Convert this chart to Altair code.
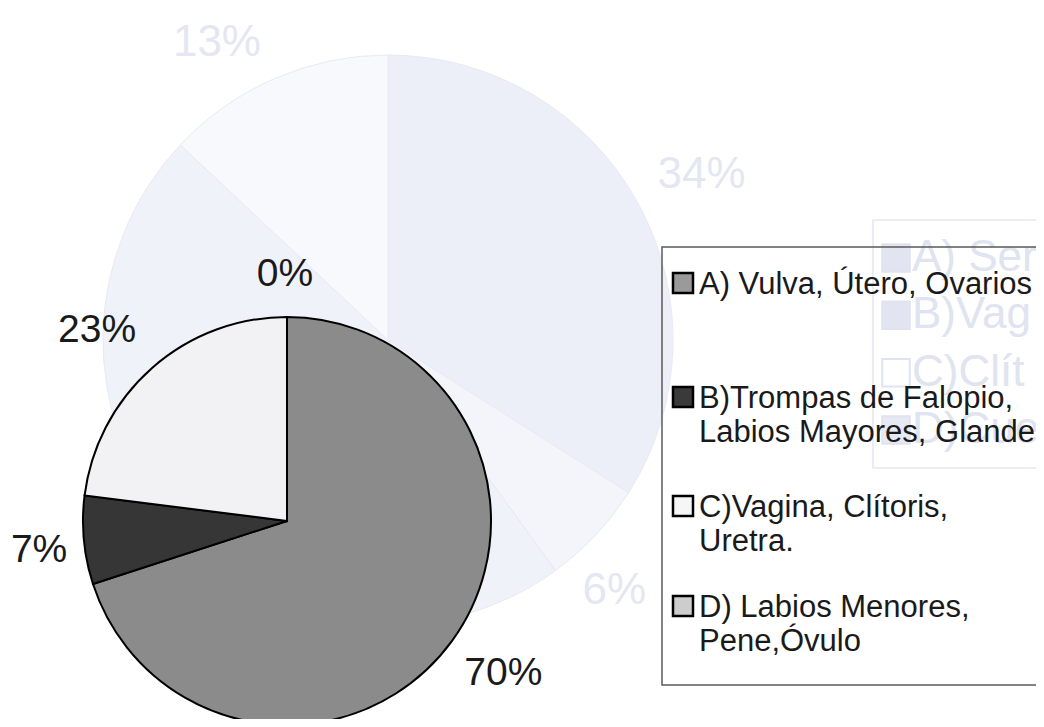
import altair as alt
import pandas as pd

# ---- main chart data ----
categories = ["A", "B", "C", "D"]
legend_labels = [
    "A) Vulva, Útero, Ovarios",
    "B)Trompas de Falopio,\nLabios Mayores, Glande",
    "C)Vagina, Clítoris,\nUretra.",
    "D) Labios Menores,\nPene,Óvulo",
]
values = [70, 7, 23, 0]
pct_labels = ["70%", "7%", "23%", "0%"]
colors = ["#8b8b8b", "#363636", "#f2f2f4", "#c9c9c9"]
swatch_colors = ["#9a9a9a", "#3a3a3a", "#f6f6f6", "#cdcdcd"]

# ---- faint bleed-through chart (from the other side of the page) ----
ghost_categories = ["gA", "gB", "gC", "gD"]
ghost_values = [34, 6, 47, 13]
ghost_pct_labels = ["34%", "6%", "", "13%"]
ghost_legend_labels = ["A) Ser", "B)Vag", "C)Clít", "D)Cue"]
ghost_colors = ["#eceef8", "#f4f5fa", "#f0f2f9", "#f8f9fc"]
ghost_swatch = ["#e2e5f1", "#e2e5f1", "#ffffff", "#e6e8f3"]

FONT = "Liberation Sans"
TOTAL = sum(values)
GTOTAL = sum(ghost_values)

main = pd.DataFrame({
    "cat": categories,
    "idx": list(range(len(categories))),
    "value": values,
    "pct": pct_labels,
    "label": legend_labels,
    "sw": swatch_colors,
})
ghost = pd.DataFrame({
    "cat": ghost_categories,
    "idx": list(range(len(ghost_categories))),
    "value": ghost_values,
    "pct": ghost_pct_labels,
    "label": ghost_legend_labels,
    "sw": ghost_swatch,
})
one = pd.DataFrame({"k": [0]})

CX, CY, R = 279, 513, 204       # main pie centre / radius (chart px)
GX, GY, GR = 380, 332, 285      # ghost pie

# ghost pie
ghost_pie = alt.Chart(ghost).mark_arc(stroke="#e8eaf4", strokeWidth=1).encode(
    theta=alt.Theta("value:Q", stack=True),
    order=alt.Order("idx:Q"),
    color=alt.Color("cat:N", scale=alt.Scale(domain=ghost_categories, range=ghost_colors), legend=None),
    x=alt.value(GX), y=alt.value(GY), radius=alt.value(GR),
)

ghost_base = alt.Chart(ghost).transform_window(
    cum="sum(value)", sort=[alt.SortField("idx")], frame=[None, 0]
).transform_calculate(mid="datum.cum - datum.value / 2")
ghost_place = {"gA": (335, 20, -4), "gB": (335, -18, 22), "gD": (335, -38, 10)}
ghost_label_layers = []
for c, (rr, ddx, ddy) in ghost_place.items():
    ghost_label_layers.append(
        ghost_base.transform_filter(alt.datum.cat == c).mark_text(
            font=FONT, fontSize=44, color="#e4e7f2", dx=ddx, dy=ddy
        ).encode(
            theta=alt.Theta("mid:Q", scale=alt.Scale(domain=[0, GTOTAL])),
            text="pct:N",
            x=alt.value(GX), y=alt.value(GY), radius=alt.value(rr),
        )
    )

ghost_box = alt.Chart(one).mark_rect(fillOpacity=0, stroke="#e5e8f2", strokeWidth=1.5).encode(
    x=alt.value(865), x2=alt.value(1100), y=alt.value(212), y2=alt.value(460)
)
gy = alt.Y("idx:Q", scale=alt.Scale(domain=[0, 3], range=[250, 422]), axis=None)
ghost_sw = alt.Chart(ghost).mark_square(size=760, stroke="#e0e3f0", strokeWidth=2, opacity=1).encode(
    x=alt.value(888), y=gy,
    fill=alt.Fill("sw:N", scale=None),
)
ghost_leg = alt.Chart(ghost).mark_text(font=FONT, fontSize=44, color="#e0e3f0", align="left", baseline="middle").encode(
    x=alt.value(904), y=gy, text="label:N"
)

# main pie
pie = alt.Chart(main).mark_arc(stroke="black", strokeWidth=2).encode(
    theta=alt.Theta("value:Q", stack=True),
    order=alt.Order("idx:Q"),
    color=alt.Color("cat:N", scale=alt.Scale(domain=categories, range=colors), legend=None),
    x=alt.value(CX), y=alt.value(CY), radius=alt.value(R),
)

label_base = alt.Chart(main).transform_window(
    cum="sum(value)", sort=[alt.SortField("idx")], frame=[None, 0]
).transform_calculate(mid="datum.cum - datum.value / 2")

# radius, dx, dy per percentage label
label_place = {"A": (265, 2, -4), "B": (248, -1, 6), "C": (272, -10, 13), "D": (249, -2, 2)}
label_layers = []
for c in categories:
    rr, ddx, ddy = label_place[c]
    label_layers.append(
        label_base.transform_filter(alt.datum.cat == c).mark_text(
            font=FONT, fontSize=39, color="#1a1a1a", dx=ddx, dy=ddy
        ).encode(
            theta=alt.Theta("mid:Q", scale=alt.Scale(domain=[0, TOTAL])),
            text="pct:N",
            x=alt.value(CX), y=alt.value(CY), radius=alt.value(rr),
        )
    )

# main legend
box = alt.Chart(one).mark_rect(fillOpacity=0, stroke="#5a5a5a", strokeWidth=1.5).encode(
    x=alt.value(654), x2=alt.value(1100), y=alt.value(239), y2=alt.value(677)
)
ly = alt.Y("idx:Q", scale=alt.Scale(domain=[0, 1, 2, 3], range=[275, 389, 498, 598]), axis=None)
sw = alt.Chart(main).mark_square(size=400, stroke="black", strokeWidth=2.5, opacity=1).encode(
    x=alt.value(675), y=ly,
    fill=alt.Fill("sw:N", scale=None),
)
leg = alt.Chart(main).mark_text(
    font=FONT, fontSize=31, color="#1a1a1a", align="left", baseline="top",
    lineBreak="\n", lineHeight=34, dy=-13,
).encode(x=alt.value(691), y=ly, text="label:N")

chart = alt.layer(
    ghost_pie, *ghost_label_layers, ghost_box, ghost_sw, ghost_leg,
    pie, *label_layers, box, sw, leg,
).resolve_scale(
    color="independent", y="independent", fill="independent"
).properties(
    width=1028, height=711, padding=0,
    autosize=alt.AutoSizeParams(type="none"),
    background="white",
).configure_view(stroke=None)

chart.save("out.html", embed_options={"renderer": "svg", "actions": False})
